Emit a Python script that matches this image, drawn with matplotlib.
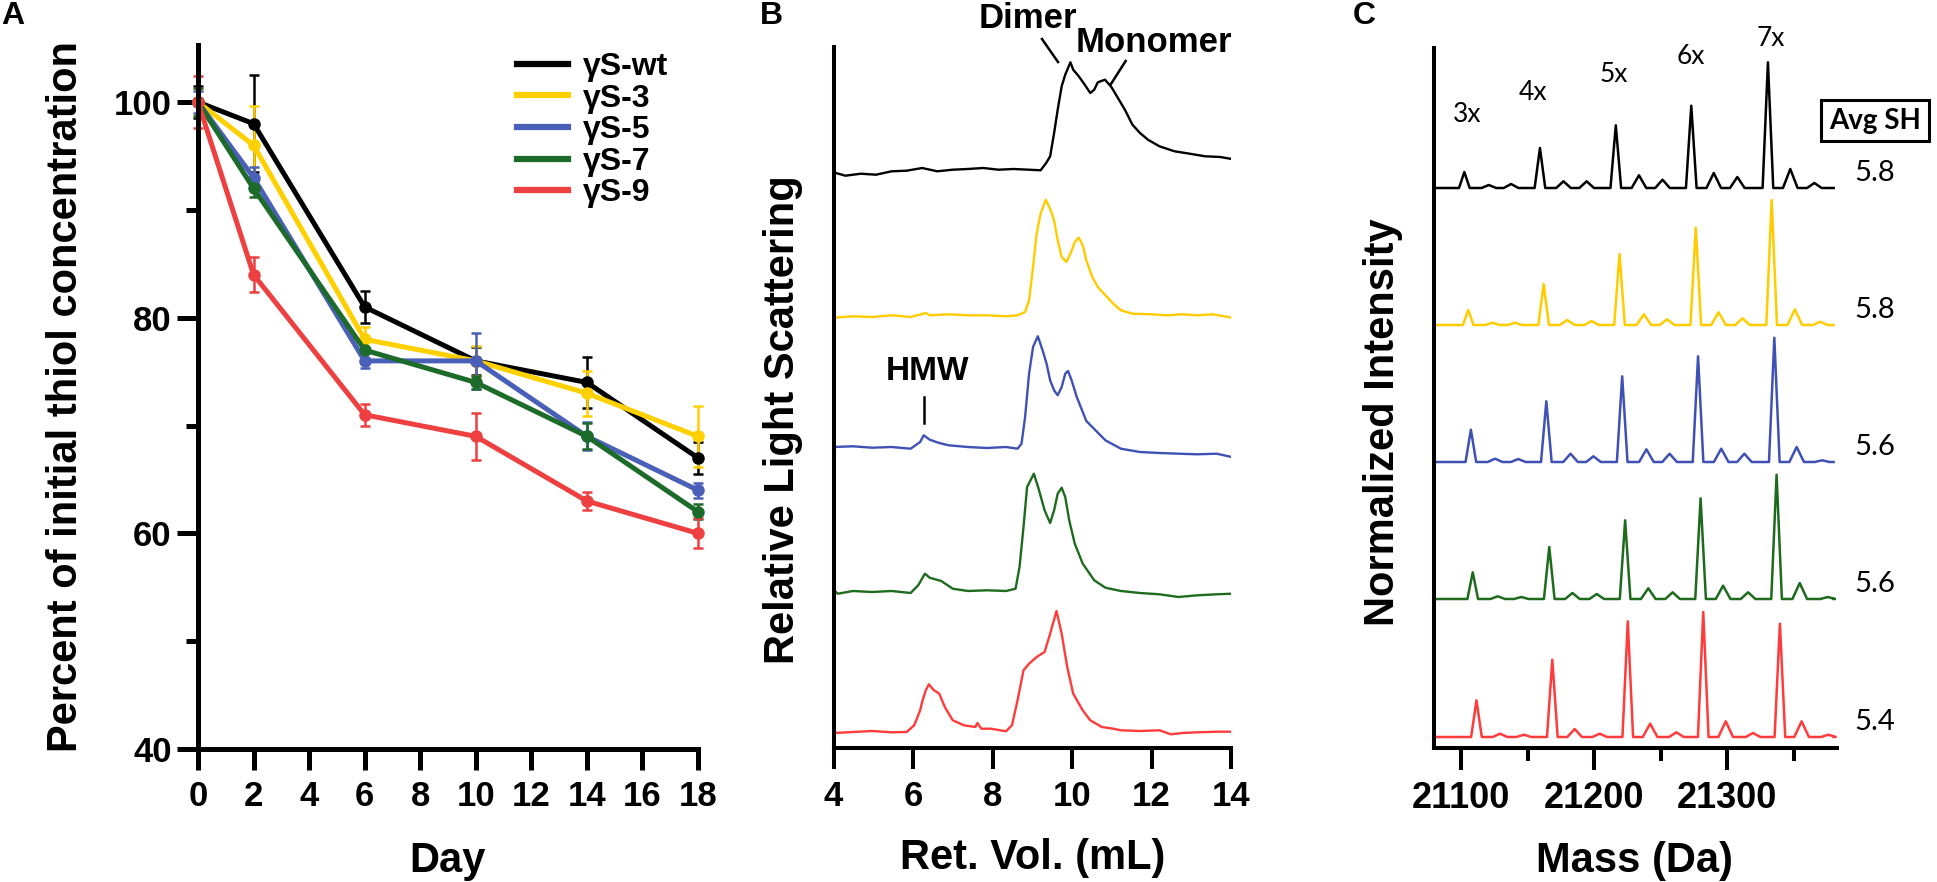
import matplotlib
matplotlib.use("Agg")
import matplotlib.pyplot as plt
from matplotlib.lines import Line2D

plt.rcParams['font.family'] = ['Liberation Sans', 'DejaVu Sans']
plt.rcParams['font.weight'] = 'bold'

W, H = 1937, 882

# ---------------- Panel A data ----------------
days = [0, 2, 6, 10, 14, 18]
labels_A = ['γS-wt', 'γS-3', 'γS-5', 'γS-7', 'γS-9']
thiol_wt = [100, 98, 81, 76, 74, 67]
err_wt = [1.5, 4.5, 1.5, 1.3, 2.4, 1.5]
thiol_3 = [100, 96, 78, 76, 73, 69]
err_3 = [1.2, 3.6, 1.1, 1.4, 2.1, 2.8]
thiol_5 = [100, 93, 76, 76, 69, 64]
err_5 = [1.0, 1.0, 0.7, 2.6, 1.3, 0.7]
thiol_7 = [100, 92, 77, 74, 69, 62]
err_7 = [1.3, 0.8, 1.0, 0.6, 1.2, 0.7]
thiol_9 = [100, 84, 71, 69, 63, 60]
err_9 = [2.4, 1.6, 1.0, 2.2, 0.8, 1.4]
colors_A = ['#000000', '#FFD000', '#4A5FB8', '#1D6B2A', '#EE4040']

# ---------------- Panel B data (ret. vol. mL, signal above baseline) ----------------
ret_wt = [4.06, 4.30, 4.69, 5.07, 5.46, 5.84, 6.23, 6.61, 7.00, 7.38, 7.77, 8.15, 8.53, 8.92,
          9.21, 9.35, 9.45, 9.55, 9.64, 9.74, 9.83, 9.90, 9.96, 10.03, 10.17, 10.32, 10.46,
          10.56, 10.65, 10.83, 10.99, 11.13, 11.33, 11.52, 11.71, 11.91, 12.20, 12.58, 12.96,
          13.35, 13.73, 14.02]
sig_wt = [0, -2.7, -0.7, -1.7, 1.7, 2.3, 5, 1.7, 3.3, 4, 5, 3.3, 4, 3.3,
          2.7, 10, 16.7, 40, 63.3, 86.7, 98.3, 105, 110.7, 103.3, 96.7, 88.3, 80,
          83.3, 90.7, 93.3, 86, 76.7, 63.3, 48.3, 40, 33.3, 26.7, 21.7, 19.3,
          16.7, 16, 14]
ret_3 = [4.01, 4.49, 4.97, 5.46, 5.94, 6.32, 6.42, 6.90, 7.38, 7.86, 8.34, 8.63, 8.82, 8.92,
         9.02, 9.11, 9.21, 9.34, 9.45, 9.55, 9.64, 9.74, 9.86, 9.98, 10.07, 10.17, 10.27,
         10.36, 10.51, 10.65, 10.84, 11.04, 11.23, 11.52, 12.00, 12.39, 12.77, 13.16, 13.54,
         14.02]
sig_3 = [-0.7, 0.7, 0, 1.7, 0, 4, 1.7, 2.7, 1.7, 1.7, 0.7, 1.7, 5, 16.7,
         50, 83.3, 103.3, 117.3, 108.3, 96.7, 76.7, 60, 55, 65, 75, 79.3, 71.7,
         56.7, 40, 30, 21.7, 13.3, 6.7, 3.3, 2.7, 1.7, 2.7, 1.7, 2.7, -0.7]
ret_5 = [4.01, 4.49, 4.97, 5.46, 5.94, 6.18, 6.27, 6.42, 6.66, 6.90, 7.38, 7.86, 8.34, 8.63,
         8.73, 8.82, 8.92, 9.02, 9.14, 9.26, 9.36, 9.45, 9.55, 9.64, 9.74, 9.83, 9.90,
         9.99, 10.12, 10.36, 10.56, 10.84, 11.23, 11.71, 12.20, 12.68, 13.16, 13.64, 14.02]
sig_5 = [0, 0.7, -0.7, 0, -1.7, 5, 11.7, 7.3, 4, 1.7, 0, -1, 0, -1.7,
         3.3, 30, 73.3, 100, 110.7, 96.7, 83.3, 66.7, 56.7, 51.7, 60, 73.3, 76,
         66.7, 50, 26, 18, 6.7, -1.7, -5, -6, -6.7, -7.3, -6.7, -10]
ret_7 = [4.01, 4.11, 4.49, 4.97, 5.46, 5.94, 6.13, 6.30, 6.42, 6.71, 7.00, 7.38, 7.86, 8.34,
         8.58, 8.68, 8.78, 8.87, 9.04, 9.16, 9.31, 9.45, 9.55, 9.64, 9.74, 9.83, 9.93,
         10.07, 10.27, 10.56, 10.84, 11.23, 11.71, 12.20, 12.68, 13.16, 13.64, 14.02]
sig_7 = [0.7, -2.7, 0, -1, 0, -2, 5.7, 17.3, 13.3, 10, 2.3, 0, 0.7, 0,
         2.3, 24, 64, 104, 117.3, 102.3, 80.7, 68, 80.7, 97.3, 103.3, 94, 70.7,
         47.3, 27.3, 10.7, 3.3, 0, -2, -3.3, -6, -4.3, -3.3, -2.7]
ret_9 = [4.01, 4.49, 4.97, 5.46, 5.84, 6.03, 6.18, 6.23, 6.32, 6.40, 6.51, 6.66, 6.80, 7.00,
         7.28, 7.57, 7.62, 7.72, 7.96, 8.34, 8.49, 8.63, 8.78, 8.92, 9.11, 9.31, 9.45,
         9.61, 9.74, 9.88, 10.03, 10.27, 10.46, 10.75, 11.04, 11.23, 11.71, 12.20, 12.49,
         12.77, 13.16, 13.64, 14.02]
sig_9 = [-1, 0, 1, -0.3, 0, 6.7, 21.7, 30, 41.7, 47.7, 42.3, 38.3, 25, 11.7,
         6.7, 5, 9, 3.3, 3.3, 0.7, 6.7, 31.7, 61.7, 68.3, 75, 80, 98.3,
         121, 98.3, 65, 38.3, 21.7, 11.7, 5, 3.3, 1.7, 1, 1.7, -2.3,
         -1, -0.3, 0.3, 0.3]
offsets_B = [575, 431, 301, 157, 16]
colors_BC = ['#000000', '#FFCC00', '#3F51B5', '#1E6B1E', '#FF3B3B']

# ---------------- Panel C data (peak mass, peak height) ----------------
mass_wt = [21102.5, 21120.9, 21137.6, 21159.3, 21177.0, 21194.4, 21216.3, 21233.7, 21251.4,
           21273.0, 21289.9, 21307.6, 21330.6, 21347.4, 21365.5]
int_wt = [16, 3, 4, 40, 6.7, 6.7, 62.7, 12.7, 8.3, 82.3, 15, 11, 125.7, 19, 5]
mass_3 = [21105.4, 21123.6, 21140.5, 21162.1, 21179.8, 21198.1, 21219.1, 21237.4, 21254.8,
          21276.4, 21293.5, 21311.5, 21333.4, 21350.8, 21369.9]
int_3 = [15, 2.3, 2.3, 41, 5, 4, 71, 10.7, 5.7, 97.3, 12.7, 6.7, 125, 15.7, 3.3]
mass_5 = [21107.4, 21125.6, 21143.0, 21164.1, 21182.3, 21199.5, 21221.1, 21239.3, 21256.7,
          21278.1, 21295.5, 21312.9, 21335.4, 21352.2, 21371.3]
int_5 = [32.3, 3.3, 3, 60.7, 8.3, 5.7, 85.7, 12.7, 8.3, 105.7, 13.3, 8.3, 124.3, 15, 1.7]
mass_7 = [21108.8, 21127.6, 21145.3, 21166.3, 21183.7, 21202.0, 21223.3, 21240.7, 21259.0,
          21280.0, 21296.9, 21315.7, 21337.1, 21354.5, 21375.5]
int_7 = [26.7, 2.7, 2, 52, 6, 5, 78.7, 10.7, 6.7, 100.7, 13.3, 6.7, 124.3, 16, 2]
mass_9 = [21111.6, 21129.3, 21147.2, 21168.6, 21185.4, 21204.2, 21225.3, 21242.1, 21261.8,
          21282.0, 21298.9, 21319.4, 21339.6, 21355.9, 21376.0]
int_9 = [36.7, 3.3, 2.3, 77.3, 8, 3.3, 115.7, 13.3, 4.7, 125, 15.7, 4, 113.3, 15.7, 2.3]
offsets_C = [560, 423, 286, 149, 11]
avg_sh = ['5.8', '5.8', '5.6', '5.6', '5.4']
peak_labels = ['3x', '4x', '5x', '6x', '7x']
peak_label_mass = [21104.5, 21154.4, 21214.8, 21272.9, 21332.5]
peak_label_y = [634, 655, 673, 691, 709]

fig = plt.figure(figsize=(W / 100, H / 100), dpi=100)


def rect(l, r, b, t):
    return [l / W, 1 - b / H, (r - l) / W, (b - t) / H]


LABEL_FS = 30

# ================= Panel A =================
axA = fig.add_axes(rect(198, 698, 749, 45))
series_A = [(thiol_wt, err_wt), (thiol_3, err_3), (thiol_5, err_5), (thiol_7, err_7), (thiol_9, err_9)]
for (vals, errs), c in zip(series_A, colors_A):
    cont = axA.errorbar(days, vals, yerr=errs, color=c, lw=3.6, marker='o', ms=8,
                        capsize=3.8, elinewidth=1.8, capthick=1.8)
    for art in cont.get_children():
        art.set_clip_on(False)
axA.set_xlim(0, 18)
axA.set_ylim(40, 105.3)
axA.set_xticks(range(0, 19, 2))
axA.set_yticks([40, 60, 80, 100])
axA.set_yticks([50, 70, 90], minor=True)
for s in ['top', 'right']:
    axA.spines[s].set_visible(False)
for s in ['left', 'bottom']:
    axA.spines[s].set_linewidth(3.6)
axA.tick_params(axis='both', which='major', length=15, width=3.6, labelsize=25)
axA.tick_params(axis='x', pad=7)
axA.tick_params(axis='y', pad=4)
axA.tick_params(axis='y', which='minor', length=9, width=3.6)
for lab in axA.get_xticklabels() + axA.get_yticklabels():
    lab.set_fontweight('bold')
axA.set_ylabel('Percent of initial thiol concentration', fontsize=LABEL_FS, fontweight='bold',
               va='center', ha='center')
axA.yaxis.set_label_coords(-0.264, 0.50)
axA.set_xlabel('Day', fontsize=LABEL_FS, fontweight='bold', va='center', ha='center')
axA.xaxis.set_label_coords(0.498, -0.159)
handles = [Line2D([], [], color=c, lw=4.5) for c in colors_A]
axA.legend(handles, labels_A, loc='upper left', bbox_to_anchor=(517 / W, 1 - 52 / H),
           bbox_transform=fig.transFigure, frameon=False, prop={'size': 23, 'weight': 'bold'},
           handlelength=1.6, handletextpad=0.45, labelspacing=0.05, borderpad=0, borderaxespad=0)

# ================= Panel B =================
axB = fig.add_axes(rect(833.5, 1231, 748, 47))
traces_B = [(ret_wt, sig_wt), (ret_3, sig_3), (ret_5, sig_5), (ret_7, sig_7), (ret_9, sig_9)]
for (x, s), off, c in zip(traces_B, offsets_B, colors_BC):
    axB.plot(x, [off + v for v in s], color=c, lw=1.7)
axB.set_xlim(4, 14)
axB.set_ylim(0, 701)
axB.set_xticks(range(4, 15, 2))
axB.set_yticks([])
for s in ['top', 'right']:
    axB.spines[s].set_visible(False)
for s in ['left', 'bottom']:
    axB.spines[s].set_linewidth(2.9)
axB.tick_params(axis='x', length=15, width=2.9, labelsize=25, pad=8)
for lab in axB.get_xticklabels():
    lab.set_fontweight('bold')
axB.set_ylabel('Relative Light Scattering', fontsize=LABEL_FS, fontweight='bold',
               va='center', ha='center')
axB.yaxis.set_label_coords(-0.127, 0.468)
axB.set_xlabel('Ret. Vol. (mL)', fontsize=LABEL_FS, fontweight='bold', va='center', ha='center')
axB.xaxis.set_label_coords(0.502, -0.157)
axB.text(8.89, 730, 'Dimer', fontsize=25, fontweight='bold', ha='center', va='center', clip_on=False)
axB.text(12.05, 705, 'Monomer', fontsize=25, fontweight='bold', ha='center', va='center', clip_on=False)
axB.text(6.37, 376, 'HMW', fontsize=24, fontweight='bold', ha='center', va='center')
axB.plot([9.245, 9.648], [709, 686], color='black', lw=1.8, clip_on=False)
axB.plot([11.35, 10.98], [687, 664], color='black', lw=1.8, clip_on=False)
axB.plot([6.277, 6.277], [351, 325], color='black', lw=1.8)

# ================= Panel C =================
axC = fig.add_axes(rect(1434, 1837, 748, 48))
XMIN_C, XMAX_C = 21079.7, 21382.5
traces_C = [(mass_wt, int_wt), (mass_3, int_3), (mass_5, int_5), (mass_7, int_7), (mass_9, int_9)]
for k, ((m, h), off, c) in enumerate(zip(traces_C, offsets_C, colors_BC)):
    xs = [21082.0]
    ys = [off]
    for j, (mc, hc) in enumerate(zip(m, h)):
        hw = 4.0 if j % 3 == 0 else 5.5
        xs += [mc - hw, mc, mc + hw]
        ys += [off, off + hc, off]
    xs.append(21380.0)
    ys.append(off)
    axC.plot(xs, ys, color=c, lw=1.8)
    axC.text(21411, off + 15, avg_sh[k], fontsize=21, fontweight='normal', family='Lato',
             ha='center', va='center', clip_on=False)
axC.set_xlim(XMIN_C, XMAX_C)
axC.set_ylim(0, 700)
axC.set_xticks([21100, 21200, 21300])
axC.set_xticks([21150, 21250, 21350], minor=True)
axC.set_yticks([])
for s in ['top', 'right']:
    axC.spines[s].set_visible(False)
for s in ['left', 'bottom']:
    axC.spines[s].set_linewidth(2.9)
axC.tick_params(axis='x', which='major', length=15.5, width=2.9, labelsize=26, pad=8)
axC.tick_params(axis='x', which='minor', length=9, width=2.9)
for lab in axC.get_xticklabels():
    lab.set_fontweight('bold')
axC.set_ylabel('Normalized Intensity', fontsize=LABEL_FS, fontweight='bold', va='center', ha='center')
axC.yaxis.set_label_coords(-0.1266, 0.466)
axC.set_xlabel('Mass (Da)', fontsize=LABEL_FS, fontweight='bold', va='center', ha='center')
axC.xaxis.set_label_coords(0.4975, -0.161)
for lbl, mx, my in zip(peak_labels, peak_label_mass, peak_label_y):
    axC.text(mx, my, lbl, fontsize=19, fontweight='normal', family='Lato', ha='center', va='center',
             clip_on=False)
fig.text(1875 / W, 1 - 120.5 / H, 'Avg SH', fontsize=20, fontweight='bold', family='Lato',
         ha='center', va='center',
         bbox=dict(boxstyle='square,pad=0.28', facecolor='white', edgecolor='black', lw=2.2))

# panel letters
for letter, px in [('A', 12.5), ('B', 771.5), ('C', 1364)]:
    fig.text(px / W, 1 - 16.5 / H, letter, fontsize=23, fontweight='bold', ha='center', va='center')

fig.savefig('out.png', dpi=100)
